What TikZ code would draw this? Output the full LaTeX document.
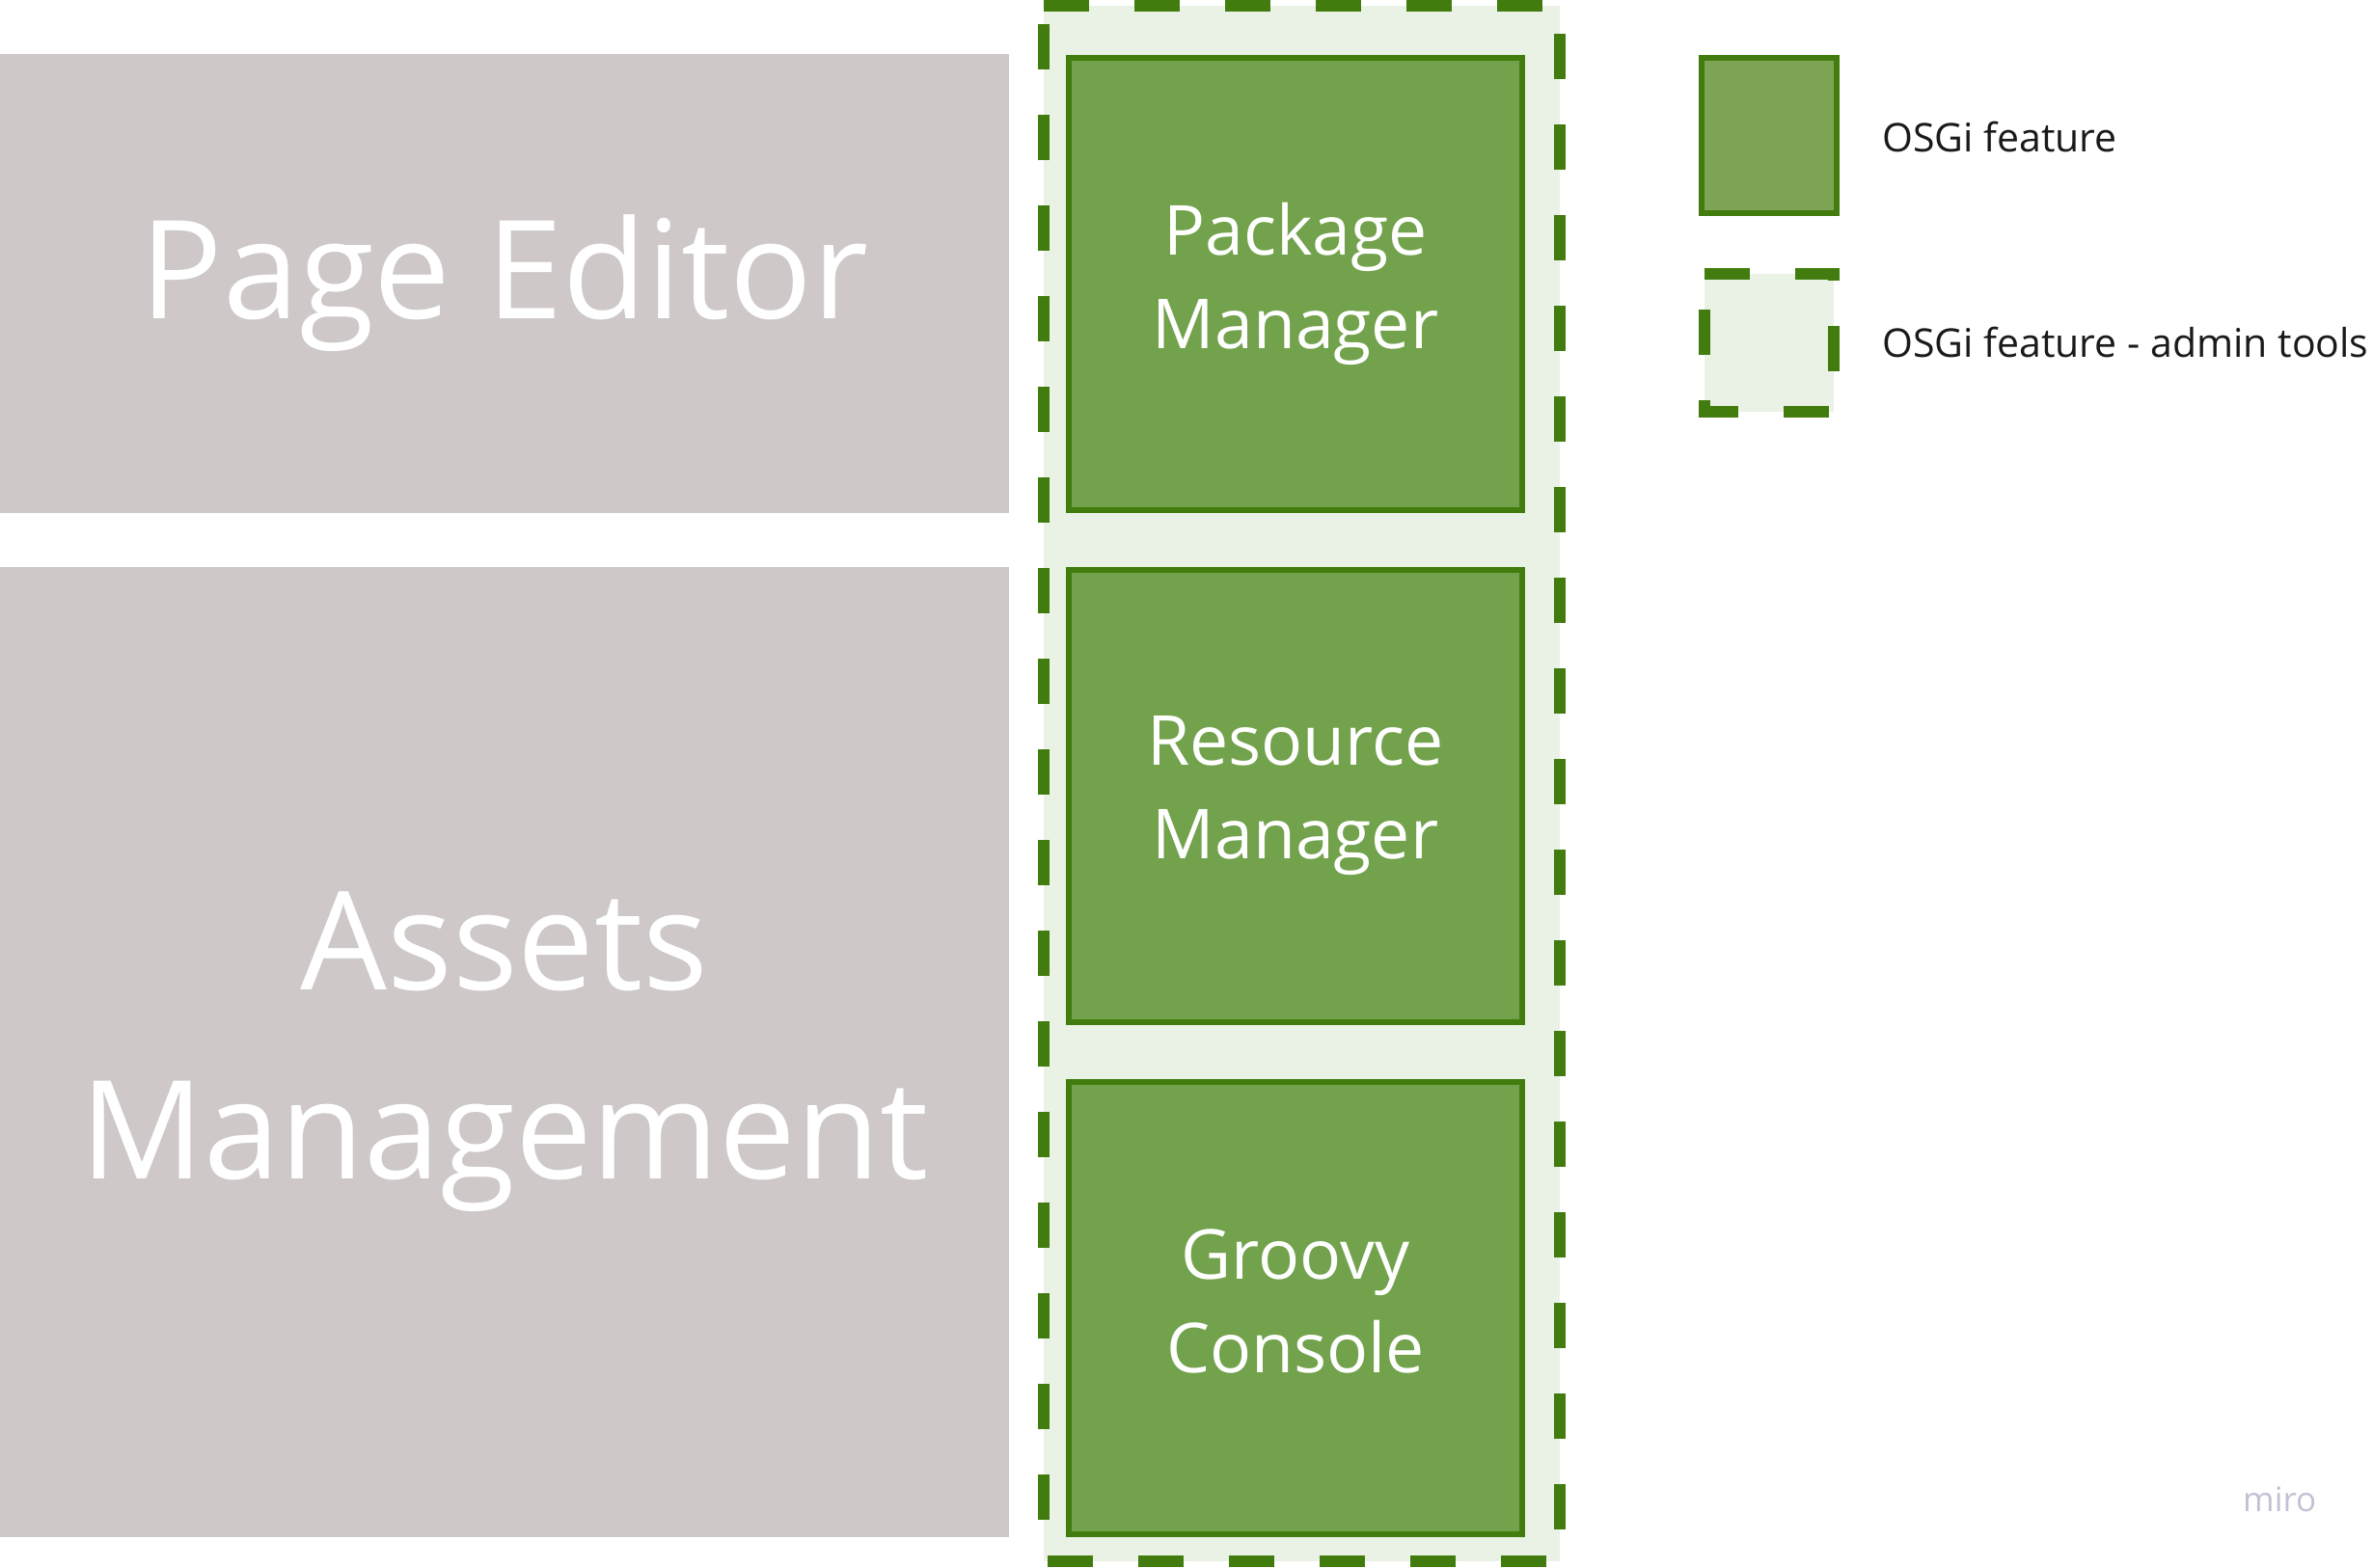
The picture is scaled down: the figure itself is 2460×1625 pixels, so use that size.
\documentclass[tikz,border=0pt]{standalone}
\usepackage{fontspec}
\setmainfont{Open Sans}
\definecolor{grayfill}{HTML}{CEC8C8}
\definecolor{featfill}{HTML}{72A24C}
\definecolor{legfill}{HTML}{7CA454}
\definecolor{darkgreen}{HTML}{427C0E}
\definecolor{lightfill}{HTML}{EAF2E6}
\definecolor{legtext}{HTML}{1A1A1A}
\definecolor{mirocol}{HTML}{C2C2D4}
\begin{document}
\begin{tikzpicture}[x=1pt,y=-1pt,
  graybox/.style={fill=grayfill, draw=none, inner sep=0pt, text=white, align=center,
    font={\fontsize{142}{196}\selectfont}},
  featbox/.style={fill=featfill, draw=darkgreen, line width=6pt, inner sep=0pt,
    minimum width=470pt, minimum height=469pt, text=white, align=center,
    font={\fontsize{71.5}{97}\selectfont}},
  dashedline/.style={draw=darkgreen, line width=12pt, dash pattern=on 47pt off 47pt, line join=miter},
  legendtext/.style={anchor=base west, inner sep=0pt, text=legtext, font={\fontsize{41}{56}\selectfont}}
]
\useasboundingbox (0,0) rectangle (2460,1625);
\fill[white] (0,0) rectangle (2460,1625);

% gray blocks
\node[graybox, minimum width=1046pt, minimum height=476pt] (pe) at (523,294) {Page Editor};
\node[graybox, minimum width=1046pt, minimum height=1006pt] (am) at (523,1091) {Assets\\Management};

% admin tools container
\coordinate (otl) at (1082,6);
\coordinate (otr) at (1617,6);
\coordinate (obr) at (1617,1619);
\coordinate (obl) at (1082,1619);
\fill[lightfill] (otl) -- (otr) -- (obr) -- (obl) -- cycle;
\draw[dashedline] (otl) -- (otr) -- (obr) -- (obl) -- cycle;

% features
\node[featbox] (pm) at (1343,294.5) {Package\\Manager};
\node[featbox] (rm) at (1343,825.5) {Resource\\Manager};
\node[featbox] (gc) at (1343,1356.5) {Groovy\\Console\rule[-15pt]{0pt}{0pt}};

% legend
\node[fill=legfill, draw=darkgreen, line width=6pt, inner sep=0pt,
  minimum width=140pt, minimum height=161pt] (lf) at (1834,140.5) {};
\node[legendtext] (lft) at (1951,157) {OSGi feature};

\coordinate (ltl) at (1767,284);
\coordinate (ltr) at (1901,284);
\coordinate (lbr) at (1901,427);
\coordinate (lbl) at (1767,427);
\fill[lightfill] (ltl) -- (ltr) -- (lbr) -- (lbl) -- cycle;
\draw[dashedline] (ltl) -- (ltr) -- (lbr) -- (lbl) -- cycle;
\node[legendtext] (lat) at (1951,370) {OSGi feature - admin tools};

% watermark
\node[anchor=base west, inner sep=0pt, text=mirocol, font={\fontsize{35}{40}\selectfont}] (miro) at (2325,1567) {miro};
\end{tikzpicture}
\end{document}
